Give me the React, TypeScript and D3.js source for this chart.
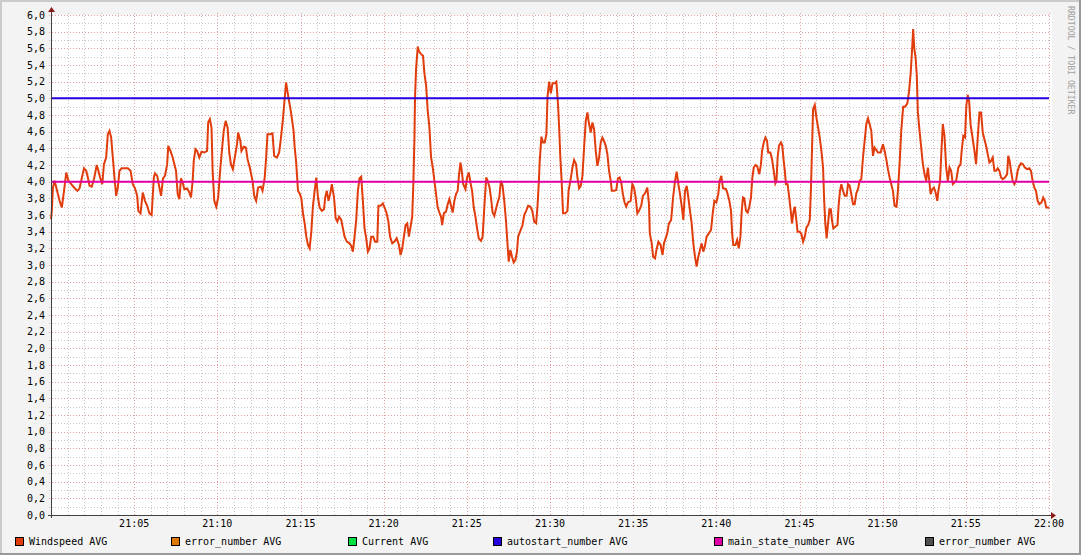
import React from "react";
import * as d3 from "d3";

// ---------- DATA ----------
// Windspeed samples: [seconds after 21:00, value]
const windspeedSamples: [number, number][] = [
  [0, 3.55], [3, 3.65], [7, 3.93], [13, 4.01], [19, 3.93], [25, 3.85], [31, 3.77], [39, 3.69], [47, 3.89],
  [55, 4.11], [63, 4.01], [73, 3.97], [83, 3.93], [95, 3.89], [103, 3.92], [109, 4.01], [119, 4.16], [127, 4.13],
  [133, 4.05], [139, 3.95], [147, 3.94], [155, 4.03], [165, 4.2], [171, 4.13], [177, 4.05], [185, 3.97], [191, 4.21],
  [199, 4.29], [205, 4.57], [211, 4.61], [217, 4.53], [223, 4.29], [229, 4.05], [235, 3.83], [241, 3.93], [247, 4.13],
  [255, 4.16], [277, 4.16], [287, 4.13], [295, 3.97], [303, 3.92], [311, 3.83], [315, 3.65], [323, 3.62], [331, 3.87],
  [339, 3.77], [347, 3.71], [355, 3.62], [363, 3.6], [371, 4.05], [375, 4.1], [383, 4.07], [391, 3.93], [397, 3.83],
  [404, 4.04], [411, 4.07], [419, 4.21], [423, 4.43], [431, 4.37], [439, 4.29], [445, 4.21], [451, 4.13], [457, 3.85],
  [463, 3.79], [469, 4.04], [475, 3.99], [481, 3.91], [491, 3.92], [499, 3.87], [505, 3.81], [511, 4.01], [515, 4.25],
  [521, 4.39], [527, 4.37], [535, 4.29], [543, 4.36], [553, 4.35], [563, 4.37], [567, 4.71], [573, 4.75], [579, 4.65],
  [583, 4.13], [589, 3.77], [596, 3.7], [603, 3.81], [611, 4.17], [617, 4.39], [623, 4.61], [630, 4.73], [637, 4.65],
  [643, 4.35], [649, 4.21], [656, 4.15], [663, 4.29], [671, 4.45], [675, 4.59], [683, 4.49], [687, 4.37], [695, 4.42],
  [703, 4.41], [709, 4.27], [717, 4.17], [727, 4.01], [733, 3.83], [740, 3.77], [747, 3.93], [757, 3.94], [763, 3.89],
  [771, 4.05], [776, 4.29], [781, 4.57], [791, 4.57], [799, 4.58], [805, 4.31], [815, 4.29], [823, 4.35], [829, 4.51],
  [836, 4.73], [843, 5.0], [848, 5.19], [853, 5.08], [859, 4.96], [865, 4.85], [875, 4.61], [879, 4.41], [884, 4.25],
  [891, 3.89], [897, 3.86], [903, 3.8], [909, 3.62], [915, 3.5], [921, 3.34], [927, 3.24], [933, 3.2], [939, 3.4],
  [945, 3.71], [951, 3.89], [957, 4.05], [963, 3.81], [969, 3.69], [977, 3.65], [985, 3.67], [989, 3.81], [995, 3.89],
  [1001, 3.77], [1007, 3.85], [1013, 3.97], [1021, 3.81], [1027, 3.56], [1033, 3.52], [1039, 3.58], [1047, 3.54],
  [1053, 3.44], [1059, 3.34], [1067, 3.28], [1077, 3.26], [1083, 3.23], [1089, 3.16], [1095, 3.34], [1101, 3.54],
  [1107, 3.89], [1113, 4.04], [1119, 4.06], [1125, 3.77], [1131, 3.44], [1137, 3.32], [1143, 3.16], [1149, 3.2],
  [1155, 3.34], [1162, 3.34], [1169, 3.28], [1177, 3.28], [1181, 3.71], [1189, 3.71], [1197, 3.74], [1203, 3.69],
  [1210, 3.63], [1217, 3.52], [1223, 3.34], [1231, 3.26], [1239, 3.28], [1247, 3.32], [1255, 3.24], [1261, 3.12],
  [1267, 3.2], [1273, 3.34], [1279, 3.48], [1285, 3.5], [1291, 3.34], [1297, 3.46], [1303, 3.58], [1307, 3.97],
  [1311, 4.53], [1313, 5.0], [1317, 5.36], [1323, 5.62], [1328, 5.56], [1335, 5.53], [1342, 5.51], [1347, 5.3],
  [1353, 5.16], [1359, 4.85], [1365, 4.65], [1371, 4.29], [1377, 4.17], [1383, 4.01], [1389, 3.85], [1395, 3.69],
  [1401, 3.63], [1407, 3.58], [1411, 3.48], [1417, 3.62], [1425, 3.64], [1431, 3.73], [1437, 3.79], [1443, 3.71],
  [1449, 3.63], [1455, 3.77], [1461, 3.85], [1467, 3.89], [1472, 4.09], [1477, 4.23], [1481, 4.15], [1487, 3.97],
  [1495, 3.91], [1501, 4.05], [1507, 4.11], [1513, 3.99], [1519, 3.89], [1525, 3.69], [1531, 3.58], [1537, 3.44],
  [1543, 3.32], [1551, 3.29], [1557, 3.34], [1563, 3.69], [1570, 4.05], [1575, 4.01], [1582, 3.93], [1587, 3.81],
  [1593, 3.63], [1599, 3.59], [1605, 3.67], [1611, 3.75], [1617, 3.81], [1623, 4.01], [1629, 3.95], [1635, 3.77],
  [1641, 3.54], [1647, 3.24], [1651, 3.04], [1657, 3.18], [1663, 3.1], [1669, 3.03], [1675, 3.06], [1681, 3.16],
  [1685, 3.34], [1693, 3.41], [1701, 3.48], [1707, 3.6], [1714, 3.65], [1721, 3.71], [1729, 3.7], [1736, 3.65],
  [1743, 3.52], [1750, 3.5], [1755, 3.71], [1760, 4.01], [1763, 4.25], [1769, 4.54], [1775, 4.47], [1781, 4.47],
  [1787, 4.57], [1791, 5.02], [1797, 5.2], [1803, 5.06], [1809, 5.18], [1817, 5.18], [1823, 5.2], [1829, 4.92],
  [1833, 4.65], [1837, 4.31], [1842, 4.01], [1847, 3.62], [1855, 3.62], [1863, 3.65], [1867, 3.89], [1875, 4.04],
  [1881, 4.17], [1887, 4.26], [1894, 4.21], [1899, 4.05], [1905, 3.92], [1911, 3.95], [1917, 4.07], [1923, 4.41],
  [1929, 4.73], [1935, 4.83], [1939, 4.73], [1947, 4.59], [1953, 4.71], [1959, 4.63], [1965, 4.37], [1971, 4.19],
  [1977, 4.29], [1983, 4.47], [1989, 4.53], [1995, 4.49], [2001, 4.43], [2007, 4.33], [2013, 4.13], [2019, 4.01],
  [2023, 3.89], [2031, 3.89], [2039, 3.9], [2045, 4.04], [2051, 4.05], [2057, 3.99], [2063, 3.85], [2069, 3.75],
  [2075, 3.7], [2081, 3.75], [2091, 3.77], [2097, 3.97], [2103, 3.93], [2109, 3.81], [2115, 3.62], [2121, 3.65],
  [2129, 3.71], [2135, 3.83], [2143, 3.86], [2151, 3.93], [2157, 3.73], [2160, 3.38], [2167, 3.26], [2172, 3.1],
  [2179, 3.08], [2184, 3.18], [2191, 3.28], [2199, 3.24], [2206, 3.12], [2211, 3.26], [2217, 3.32], [2223, 3.38],
  [2229, 3.5], [2237, 3.54], [2244, 3.81], [2251, 4.01], [2257, 4.12], [2263, 3.97], [2269, 3.85], [2275, 3.71],
  [2281, 3.54], [2287, 3.89], [2293, 3.95], [2299, 3.81], [2305, 3.65], [2311, 3.5], [2317, 3.26], [2323, 3.1],
  [2329, 2.98], [2335, 3.1], [2341, 3.18], [2347, 3.26], [2353, 3.16], [2359, 3.23], [2365, 3.34], [2373, 3.38],
  [2381, 3.42], [2387, 3.62], [2393, 3.77], [2400, 3.75], [2407, 3.85], [2412, 4.01], [2418, 4.07], [2424, 3.92],
  [2435, 3.91], [2441, 3.85], [2447, 3.77], [2453, 3.65], [2457, 3.38], [2461, 3.24], [2469, 3.24], [2475, 3.3],
  [2481, 3.2], [2487, 3.34], [2491, 3.62], [2496, 3.81], [2501, 3.8], [2507, 3.65], [2513, 3.63], [2519, 3.7],
  [2525, 3.81], [2530, 4.05], [2535, 4.17], [2541, 4.2], [2547, 4.19], [2555, 4.09], [2561, 4.21], [2565, 4.37],
  [2571, 4.47], [2577, 4.53], [2583, 4.49], [2587, 4.35], [2595, 4.35], [2601, 4.27], [2607, 4.13], [2613, 3.98],
  [2617, 4.01], [2621, 4.29], [2626, 4.43], [2633, 4.47], [2638, 4.43], [2643, 4.25], [2647, 4.13], [2651, 3.97],
  [2657, 3.97], [2663, 3.81], [2669, 3.63], [2673, 3.5], [2679, 3.65], [2683, 3.7], [2688, 3.56], [2693, 3.4],
  [2701, 3.4], [2707, 3.37], [2713, 3.28], [2719, 3.34], [2725, 3.45], [2731, 3.48], [2737, 3.54], [2741, 3.89],
  [2745, 4.37], [2749, 4.87], [2755, 4.92], [2761, 4.77], [2767, 4.65], [2773, 4.53], [2779, 4.37], [2785, 4.17],
  [2789, 3.77], [2793, 3.5], [2798, 3.32], [2803, 3.5], [2808, 3.67], [2813, 3.67], [2817, 3.54], [2822, 3.44],
  [2829, 3.46], [2837, 3.48], [2841, 3.71], [2846, 3.89], [2851, 3.97], [2857, 3.89], [2863, 3.83], [2870, 3.83],
  [2875, 3.97], [2881, 3.95], [2887, 3.85], [2893, 3.73], [2899, 3.73], [2905, 3.86], [2911, 3.91], [2917, 4.01],
  [2923, 4.03], [2929, 4.29], [2935, 4.49], [2941, 4.69], [2947, 4.76], [2953, 4.69], [2959, 4.61], [2965, 4.31],
  [2971, 4.41], [2977, 4.38], [2983, 4.35], [2993, 4.35], [3001, 4.45], [3007, 4.37], [3013, 4.27], [3019, 4.15],
  [3025, 4.05], [3031, 3.97], [3037, 3.89], [3043, 3.71], [3050, 3.7], [3055, 3.89], [3061, 4.21], [3067, 4.61],
  [3074, 4.9], [3081, 4.9], [3089, 4.94], [3095, 5.08], [3101, 5.3], [3105, 5.52], [3110, 5.83], [3114, 5.6],
  [3119, 5.48], [3123, 5.28], [3127, 4.83], [3133, 4.61], [3139, 4.41], [3145, 4.21], [3151, 4.09], [3157, 4.01],
  [3163, 4.17], [3167, 4.05], [3173, 3.85], [3179, 3.91], [3185, 3.93], [3191, 3.87], [3197, 3.77], [3201, 3.89],
  [3207, 4.01], [3212, 4.37], [3217, 4.69], [3223, 4.55], [3229, 4.17], [3235, 4.01], [3241, 4.17], [3247, 4.13],
  [3253, 3.97], [3259, 3.99], [3265, 4.01], [3273, 4.17], [3281, 4.21], [3285, 4.37], [3291, 4.55], [3297, 4.53],
  [3302, 4.92], [3307, 5.04], [3312, 4.96], [3317, 4.69], [3324, 4.53], [3331, 4.37], [3337, 4.21], [3343, 4.53],
  [3349, 4.83], [3355, 4.83], [3361, 4.59], [3367, 4.51], [3373, 4.43], [3379, 4.33], [3385, 4.23], [3391, 4.25],
  [3397, 4.29], [3403, 4.13], [3409, 4.13], [3415, 4.16], [3421, 4.13], [3427, 4.05], [3433, 4.03], [3441, 4.05],
  [3449, 4.09], [3453, 4.31], [3458, 4.25], [3463, 4.13], [3469, 4.01], [3475, 3.97], [3481, 4.01], [3487, 4.13],
  [3493, 4.19], [3499, 4.22], [3506, 4.21], [3513, 4.17], [3521, 4.15], [3529, 4.16], [3535, 4.13], [3541, 4.01],
  [3547, 3.93], [3553, 3.89], [3559, 3.77], [3565, 3.73], [3573, 3.75], [3579, 3.81], [3585, 3.77], [3590, 3.69],
  [3597, 3.69], [3600, 3.68],
];

const autostartLevel = 5.0;
const mainStateLevel = 4.0;

const xTickMinutes = [5, 10, 15, 20, 25, 30, 35, 40, 45, 50, 55, 60];
const xTickLabels = ["21:05", "21:10", "21:15", "21:20", "21:25", "21:30", "21:35", "21:40", "21:45", "21:50", "21:55", "22:00"];

const legendNames = ["Windspeed AVG", "error_number AVG", "Current AVG", "autostart_number AVG", "main_state_number AVG", "error_number AVG"];
const legendColors = ["#E03C0C", "#E07808", "#00E040", "#2800E0", "#E000A8", "#505050"];
const legendX = [15, 171, 348, 493, 714, 925];

// ---------- LAYOUT ----------
const W = 1081;
const H = 555;
const left = 51;
const right = 1049;
const top = 15;
const bottom = 515;
const FONT = "'DejaVu Sans Mono', monospace";

export default function App() {
  const x = d3.scaleLinear().domain([0, 3600]).range([left, right]);
  const y = d3.scaleLinear().domain([0, 6]).range([bottom, top]);

  const line = d3
    .line<[number, number]>()
    .x((d) => x(d[0]))
    .y((d) => y(d[1]))
    .curve(d3.curveLinear);

  const yMinor = d3.range(0, 61).map((i) => i / 10);
  const xMinor = d3.range(0, 61).map((i) => i * 60);
  const fmt = d3.format(".1f");

  return (
    <svg
      width={W}
      height={H}
      style={{ position: "absolute", left: 0, top: 0, display: "block" }}
      fontFamily={FONT}
    >
      {/* background & border */}
      <rect x={0} y={0} width={W} height={H} fill="#F3F3F3" />
      <rect x={0} y={0} width={W} height={2} fill="#CBCBCB" />
      <rect x={0} y={0} width={2} height={H} fill="#CBCBCB" />
      <rect x={0} y={H - 2} width={W} height={2} fill="#999999" />
      <rect x={W - 2} y={0} width={2} height={H} fill="#999999" />
      {/* canvas */}
      <rect x={left} y={top} width={right - left + 3} height={bottom - top} fill="#FFFFFF" />

      {/* minor grid */}
      <g shapeRendering="crispEdges">
        {yMinor.map((v, i) =>
          i % 2 === 1 ? (
            <line key={"ym" + i} x1={left - 2} x2={right + 2} y1={Math.round(y(v)) + 0.5} y2={Math.round(y(v)) + 0.5}
              stroke="#C8C8C8" strokeDasharray="1,2" />
          ) : null
        )}
        {xMinor.map((t, i) =>
          i % 5 !== 0 ? (
            <line key={"xm" + i} y1={top - 2} y2={bottom + 2} x1={Math.round(x(t)) + 0.5} x2={Math.round(x(t)) + 0.5}
              stroke="#C8C8C8" strokeDasharray="1,2" />
          ) : null
        )}
        {/* major grid */}
        {yMinor.map((v, i) =>
          i % 2 === 0 && i > 0 ? (
            <line key={"yM" + i} x1={left - 2} x2={right + 2} y1={Math.round(y(v)) + 0.5} y2={Math.round(y(v)) + 0.5}
              stroke="#E6A0A0" strokeDasharray="1,2" />
          ) : null
        )}
        {xMinor.map((t, i) =>
          i % 5 === 0 && i > 0 ? (
            <line key={"xM" + i} y1={top - 2} y2={bottom + 2} x1={Math.round(x(t)) + 0.5} x2={Math.round(x(t)) + 0.5}
              stroke="#E6A0A0" strokeDasharray="1,2" />
          ) : null
        )}
      </g>

      {/* y labels */}
      {yMinor.map((v, i) =>
        i % 2 === 0 ? (
          <text key={"yl" + i} x={45} y={y(v) + 3.5} fontSize={10} textAnchor="end" fill="#000">
            {fmt(v).replace(".", ",")}
          </text>
        ) : null
      )}
      {/* x labels */}
      {xTickMinutes.map((m, i) => (
        <text key={"xl" + i} x={x(m * 60)} y={527} fontSize={10} textAnchor="middle" fill="#000">
          {xTickLabels[i]}
        </text>
      ))}

      {/* data */}
      <path d={line(windspeedSamples) || ""} fill="none" stroke={legendColors[0]} strokeWidth={2} strokeLinejoin="miter" />
      <line x1={left} x2={right} y1={y(autostartLevel)} y2={y(autostartLevel)} stroke={legendColors[3]} strokeWidth={2} />
      <line x1={left} x2={right} y1={y(mainStateLevel)} y2={y(mainStateLevel)} stroke={legendColors[4]} strokeWidth={2} />

      {/* axes */}
      <g shapeRendering="crispEdges">
        <line x1={left - 3} x2={right + 3} y1={bottom + 0.5} y2={bottom + 0.5} stroke="#404040" strokeWidth={1} />
        <line x1={left + 0.5} x2={left + 0.5} y1={bottom + 3} y2={top - 3} stroke="#404040" strokeWidth={1} />
      </g>
      <path d={`M${right + 2},${bottom - 3} L${right + 7},${bottom + 0.5} L${right + 2},${bottom + 4} Z`} fill="#8B1A1A" />
      <path d={`M${left - 3},${top - 3} L${left + 0.5},${top - 8} L${left + 4},${top - 3} Z`} fill="#8B1A1A" />

      {/* watermark */}
      <text
        transform={`translate(1068, 6) rotate(90)`}
        fontSize={8.2}
        fill="#A0A0A0"
        textAnchor="start"
      >
        RRDTOOL / TOBI OETIKER
      </text>

      {/* legend */}
      {legendNames.map((n, i) => (
        <g key={"lg" + i}>
          <rect x={legendX[i] + 0.5} y={537.5} width={8} height={8} fill={legendColors[i]} stroke="#000" strokeWidth={1} />
          <text x={legendX[i] + 14} y={545} fontSize={10} fill="#000">
            {n}
          </text>
        </g>
      ))}
    </svg>
  );
}
